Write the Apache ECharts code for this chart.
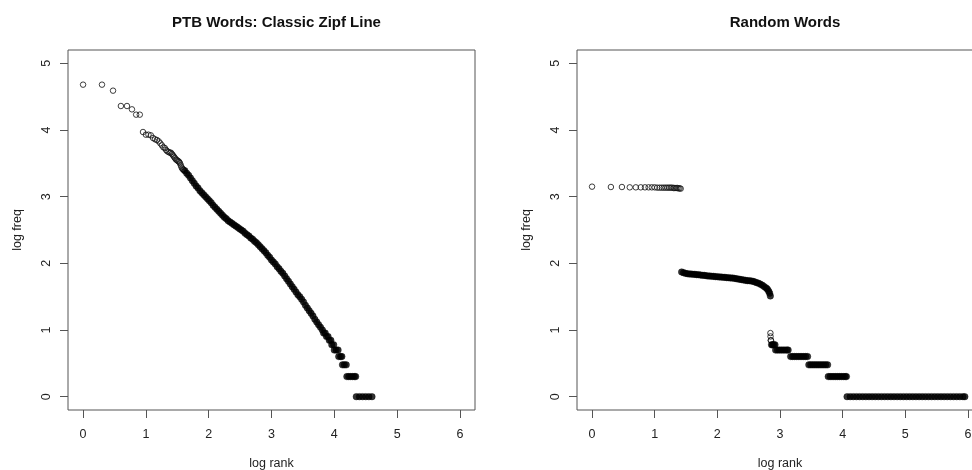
<!DOCTYPE html>
<html>
<head>
<meta charset="utf-8">
<script src="https://cdn.jsdelivr.net/npm/echarts@6/dist/echarts.min.js"></script>
<style>
html,body{margin:0;padding:0;background:#fff;}
#chart{width:972px;height:470px;}
</style>
</head>
<body>
<div id="chart"></div>
<script>
// ---------- tick labels ----------
var xTicks = [0, 1, 2, 3, 4, 5, 6];
var yTicks = [0, 1, 2, 3, 4, 5];
var titles = ['PTB Words: Classic Zipf Line', 'Random Words'];

// ---------- PTB words: individually visible points (log rank, log freq) ----------
var ptbSparseLogRank = [0, 0.301, 0.477, 0.602, 0.699, 0.778, 0.845, 0.903, 0.954, 1.000,
  1.041, 1.079, 1.114, 1.146, 1.176, 1.204, 1.230, 1.255, 1.279, 1.301,
  1.322, 1.342, 1.362, 1.380, 1.398, 1.415, 1.431, 1.447, 1.462, 1.477,
  1.491, 1.505, 1.519, 1.531, 1.544, 1.556, 1.568, 1.580, 1.591, 1.602];
var ptbSparseLogFreq = [4.68, 4.68, 4.59, 4.36, 4.36, 4.31, 4.23, 4.23, 3.97, 3.93,
  3.93, 3.92, 3.88, 3.86, 3.85, 3.83, 3.80, 3.77, 3.74, 3.73,
  3.70, 3.68, 3.67, 3.66, 3.66, 3.64, 3.62, 3.60, 3.58, 3.56,
  3.55, 3.54, 3.53, 3.52, 3.50, 3.47, 3.44, 3.42, 3.41, 3.40];

// ---------- PTB words: overplotted (dense) region ----------
var ptbDenseLogRank = [1.62, 1.65, 1.68, 1.71, 1.74, 1.77, 1.80, 1.83, 1.86, 1.89,
  1.92, 1.95, 1.98, 2.01, 2.04, 2.07, 2.10, 2.13, 2.16, 2.19,
  2.22, 2.25, 2.28, 2.31, 2.34, 2.37, 2.40, 2.43, 2.46, 2.49,
  2.52, 2.55, 2.58, 2.61, 2.64, 2.67, 2.70, 2.73, 2.76, 2.79,
  2.82, 2.85, 2.88, 2.91, 2.94, 2.97, 3.00, 3.03, 3.06, 3.09,
  3.12, 3.15, 3.18, 3.21, 3.24, 3.27, 3.30, 3.33, 3.36, 3.39,
  3.42, 3.45, 3.48, 3.51, 3.54, 3.57, 3.60, 3.63, 3.66, 3.69,
  3.72, 3.75, 3.78, 3.81,
  3.83, 3.855, 3.875, 3.90, 3.92, 3.945, 3.96, 3.99,
  4.00, 4.03, 4.06, 4.07, 4.10, 4.12, 4.13, 4.16, 4.19,
  4.20, 4.23, 4.26, 4.29, 4.32, 4.34,
  4.35, 4.40, 4.45, 4.50, 4.55, 4.60];
var ptbDenseLogFreq = [3.39, 3.35, 3.32, 3.28, 3.24, 3.20, 3.16, 3.13, 3.09, 3.06,
  3.03, 3.00, 2.97, 2.94, 2.91, 2.87, 2.84, 2.81, 2.78, 2.75,
  2.72, 2.69, 2.67, 2.64, 2.62, 2.60, 2.58, 2.56, 2.54, 2.52,
  2.50, 2.48, 2.45, 2.43, 2.41, 2.38, 2.36, 2.33, 2.31, 2.28,
  2.25, 2.22, 2.19, 2.16, 2.12, 2.09, 2.05, 2.02, 1.99, 1.95,
  1.92, 1.88, 1.85, 1.81, 1.77, 1.73, 1.69, 1.65, 1.61, 1.57,
  1.53, 1.50, 1.46, 1.42, 1.37, 1.33, 1.29, 1.25, 1.21, 1.16,
  1.12, 1.08, 1.04, 1.00,
  0.954, 0.954, 0.903, 0.903, 0.845, 0.845, 0.778, 0.778,
  0.699, 0.699, 0.699, 0.602, 0.602, 0.602, 0.477, 0.477, 0.477,
  0.301, 0.301, 0.301, 0.301, 0.301, 0.301,
  0, 0, 0, 0, 0, 0];

// ---------- Random words: individually visible points ----------
var randSparseLogRank = [0, 0.301, 0.477, 0.602, 0.699, 0.778, 0.845, 0.903, 0.954, 1.000,
  1.041, 1.079, 1.114, 1.146, 1.176, 1.204, 1.230, 1.255, 1.279, 1.301,
  1.322, 1.342, 1.362, 1.380, 1.398, 1.415,
  2.847, 2.849, 2.852, 2.857];
var randSparseLogFreq = [3.15, 3.145, 3.145, 3.14, 3.14, 3.14, 3.14, 3.14, 3.14, 3.14,
  3.135, 3.135, 3.135, 3.135, 3.135, 3.135, 3.135, 3.135, 3.135, 3.13,
  3.13, 3.13, 3.13, 3.125, 3.125, 3.12,
  0.954, 0.903, 0.845, 0.845];

// ---------- Random words: overplotted (dense) region ----------
var randDenseLogRank = [1.43, 1.46, 1.49, 1.52, 1.55, 1.58, 1.61, 1.64, 1.67, 1.70,
  1.73, 1.76, 1.79, 1.82, 1.85, 1.88, 1.91, 1.94, 1.97, 2.00,
  2.03, 2.06, 2.09, 2.12, 2.15, 2.18, 2.21, 2.24, 2.27, 2.30,
  2.33, 2.36, 2.39, 2.42, 2.45, 2.48, 2.51, 2.54, 2.57, 2.60,
  2.63, 2.66, 2.69, 2.72, 2.75, 2.78, 2.80, 2.82, 2.835, 2.846,
  2.865, 2.88, 2.90, 2.92,
  2.93, 2.96, 2.99, 3.02, 3.05, 3.08, 3.11, 3.13,
  3.17, 3.20, 3.23, 3.26, 3.29, 3.32, 3.35, 3.38, 3.41, 3.44,
  3.46, 3.49, 3.52, 3.55, 3.58, 3.61, 3.64, 3.67, 3.70, 3.73, 3.76,
  3.77, 3.80, 3.83, 3.86, 3.89, 3.92, 3.95, 3.98, 4.01, 4.04, 4.06,
  4.07, 4.12, 4.17, 4.22, 4.27, 4.32, 4.37, 4.42, 4.47, 4.52,
  4.57, 4.62, 4.67, 4.72, 4.77, 4.82, 4.87, 4.92, 4.97, 5.02,
  5.07, 5.12, 5.17, 5.22, 5.27, 5.32, 5.37, 5.42, 5.47, 5.52,
  5.57, 5.62, 5.67, 5.72, 5.77, 5.82, 5.87, 5.92, 5.95];
var randDenseLogFreq = [1.87, 1.86, 1.85, 1.845, 1.84, 1.84, 1.835, 1.835, 1.83, 1.83,
  1.825, 1.82, 1.82, 1.815, 1.81, 1.81, 1.805, 1.805, 1.80, 1.80,
  1.795, 1.795, 1.79, 1.79, 1.785, 1.785, 1.78, 1.78, 1.775, 1.77,
  1.765, 1.76, 1.755, 1.75, 1.745, 1.74, 1.74, 1.735, 1.73, 1.72,
  1.71, 1.70, 1.685, 1.67, 1.65, 1.63, 1.61, 1.58, 1.55, 1.51,
  0.778, 0.778, 0.778, 0.778,
  0.699, 0.699, 0.699, 0.699, 0.699, 0.699, 0.699, 0.699,
  0.602, 0.602, 0.602, 0.602, 0.602, 0.602, 0.602, 0.602, 0.602, 0.602,
  0.477, 0.477, 0.477, 0.477, 0.477, 0.477, 0.477, 0.477, 0.477, 0.477, 0.477,
  0.301, 0.301, 0.301, 0.301, 0.301, 0.301, 0.301, 0.301, 0.301, 0.301, 0.301,
  0, 0, 0, 0, 0, 0, 0, 0, 0, 0,
  0, 0, 0, 0, 0, 0, 0, 0, 0, 0,
  0, 0, 0, 0, 0, 0, 0, 0, 0, 0,
  0, 0, 0, 0, 0, 0, 0, 0, 0];

function pairs(xs, ys) {
  var out = [];
  for (var i = 0; i < xs.length; i++) out.push([xs[i], ys[i]]);
  return out;
}

var FONT = '"Liberation Sans", Arial, Helvetica, sans-serif';
var LINE = '#555';
var TEXT = '#222';

function xAxisFor(g) {
  return {
    type: 'value', gridIndex: g, min: -0.24, max: 6.24,
    name: 'log rank', nameLocation: 'middle', nameGap: 47, nameMoveOverlap: false,
    nameTextStyle: { fontFamily: FONT, fontSize: 12.5, color: TEXT },
    axisLine: { show: false, onZero: false },
    splitLine: { show: false },
    axisTick: { show: true, inside: false, length: 8, customValues: xTicks, lineStyle: { color: LINE, width: 1 } },
    axisLabel: { customValues: xTicks, margin: 18, fontFamily: FONT, fontSize: 12.5, color: TEXT }
  };
}
function yAxisFor(g) {
  return {
    type: 'value', gridIndex: g, min: -0.2, max: 5.2,
    name: 'log freq', nameLocation: 'middle', nameGap: 44, nameMoveOverlap: false,
    nameTextStyle: { fontFamily: FONT, fontSize: 12.5, color: TEXT },
    axisLine: { show: false, onZero: false },
    splitLine: { show: false },
    axisTick: { show: true, inside: false, length: 8, customValues: yTicks, lineStyle: { color: LINE, width: 1 } },
    axisLabel: { customValues: yTicks, rotate: 90, margin: 14.5, fontFamily: FONT, fontSize: 12.5, color: TEXT }
  };
}

var ringStyle = { color: 'rgba(0,0,0,0)', borderColor: '#111', borderWidth: 1 };
var fillStyle = { color: '#000', borderColor: '#000', borderWidth: 0.5 };

var option = {
  backgroundColor: '#fff',
  animation: false,
  title: [
    { text: titles[0], left: 271.5, top: 10, textAlign: 'center',
      textStyle: { fontFamily: FONT, fontSize: 15, fontWeight: 'bold', color: '#111' } },
    { text: titles[1], left: 780, top: 10, textAlign: 'center',
      textStyle: { fontFamily: FONT, fontSize: 15, fontWeight: 'bold', color: '#111' } }
  ],
  grid: [
    { left: 68, top: 50, width: 407, height: 360, show: true, borderColor: LINE, borderWidth: 1,
      backgroundColor: 'rgba(0,0,0,0)', outerBoundsMode: 'none', containLabel: false },
    { left: 577, top: 50, width: 406, height: 360, show: true, borderColor: LINE, borderWidth: 1,
      backgroundColor: 'rgba(0,0,0,0)', outerBoundsMode: 'none', containLabel: false }
  ],
  xAxis: [xAxisFor(0), xAxisFor(1)],
  yAxis: [yAxisFor(0), yAxisFor(1)],
  series: [
    { type: 'scatter', xAxisIndex: 0, yAxisIndex: 0, symbol: 'circle', symbolSize: 5.5,
      itemStyle: ringStyle, data: pairs(ptbSparseLogRank, ptbSparseLogFreq), silent: true },
    { type: 'scatter', xAxisIndex: 0, yAxisIndex: 0, symbol: 'circle', symbolSize: 6.5,
      itemStyle: fillStyle, data: pairs(ptbDenseLogRank, ptbDenseLogFreq), silent: true },
    { type: 'scatter', xAxisIndex: 1, yAxisIndex: 1, symbol: 'circle', symbolSize: 5.5,
      itemStyle: ringStyle, data: pairs(randSparseLogRank, randSparseLogFreq), silent: true },
    { type: 'scatter', xAxisIndex: 1, yAxisIndex: 1, symbol: 'circle', symbolSize: 6.5,
      itemStyle: fillStyle, data: pairs(randDenseLogRank, randDenseLogFreq), silent: true }
  ]
};

var chart = echarts.init(document.getElementById('chart'), null, { renderer: 'canvas' });
chart.setOption(option);
</script>
</body>
</html>
